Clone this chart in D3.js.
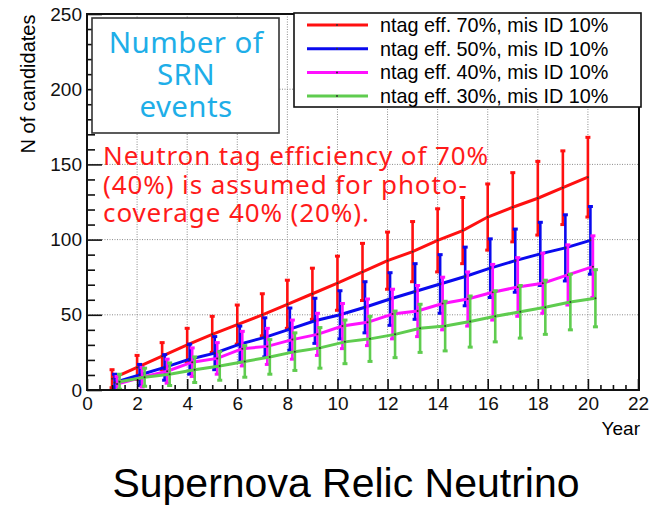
<!DOCTYPE html>
<html>
<head>
<meta charset="utf-8">
<script src="https://cdn.jsdelivr.net/npm/d3@7"></script>
<style>
body { margin: 0; background: #fff; }
text { font-family: "Liberation Sans", Arial, sans-serif; }
</style>
</head>
<body>
<div id="chart"></div>
<script>
// data
var years = [1, 2, 3, 4, 5, 6, 7, 8, 9, 10, 11, 12, 13, 14, 15, 16, 17, 18, 19, 20]

var eff70 = [7.5, 15, 22.5, 30, 37, 43.5, 50, 57, 64, 71, 78.5, 86, 92, 99.5, 106, 115, 121.5, 127.5, 134.5, 141.5]
var err70 = [6, 8, 9, 11, 12, 13, 14, 16, 17, 18, 19, 19, 20, 21, 22, 22, 23, 24.5, 24.5, 26.5]

var eff50 = [5, 10, 15, 20.5, 24.5, 30.5, 35, 40.5, 46, 50, 55, 60.5, 65.5, 70.5, 75.5, 81, 86, 90.5, 94.5, 99.5]
var err50 = [5.5, 7, 8.5, 10, 11, 12, 13, 14, 15, 16, 17, 17.5, 18.5, 19.5, 19.5, 19.5, 21, 21, 22, 22.5]

var eff40 = [4, 8.5, 12.5, 18.5, 21, 27.5, 29, 33.5, 37, 42.5, 45, 50.5, 52.5, 57.5, 60.5, 65, 68.5, 71, 76.5, 82]
var err40 = [5, 6.5, 8, 9.5, 10.5, 11.5, 12, 13, 14, 15, 15.5, 16.5, 17, 17.5, 18, 18.5, 19.5, 20, 20, 20.5]

var eff30 = [5.5, 8.5, 10.5, 13.5, 16, 19, 22, 25.5, 28, 32, 34, 37, 41, 42.5, 45.5, 49, 52, 55, 58.5, 61]
var err30 = [5, 6, 7.5, 8.5, 9.5, 10.5, 11.5, 12.5, 13.5, 14.5, 15, 15.5, 16, 16.5, 17, 17, 17.5, 18, 18.5, 19]

var seriesNames = ["ntag eff. 70%, mis ID 10%", "ntag eff. 50%, mis ID 10%", "ntag eff. 40%, mis ID 10%", "ntag eff. 30%, mis ID 10%"]
var xTicks = [0, 2, 4, 6, 8, 10, 12, 14, 16, 18, 20, 22]
var yTicks = [0, 50, 100, 150, 200, 250]

var colors = ["#ff1010", "#0a0aee", "#ff10ff", "#5fcc4f"]

var series = [
  {name: seriesNames[0], values: eff70, errors: err70},
  {name: seriesNames[1], values: eff50, errors: err50},
  {name: seriesNames[2], values: eff40, errors: err40},
  {name: seriesNames[3], values: eff30, errors: err30}
]

var svgWidth = 650
var svgHeight = 505
var margin = {top: 14, right: 11, bottom: 115, left: 87}
var width = svgWidth - margin.left - margin.right
var height = svgHeight - margin.top - margin.bottom

var svg = d3.select("#chart")
  .append("svg")
  .attr("width", svgWidth)
  .attr("height", svgHeight)

svg.append("rect").attr("width", svgWidth).attr("height", svgHeight).attr("fill", "#fff")

var chartGroup = svg.append("g")
  .attr("transform", `translate(${margin.left}, ${margin.top})`)

var xScale = d3.scaleLinear().domain([0, 22]).range([0, width - 1])
var yScale = d3.scaleLinear().domain([0, 250]).range([height, 0])

chartGroup.append("clipPath").attr("id", "plotclip")
  .append("rect").attr("width", width).attr("height", height)

// dotted grid
chartGroup.append("g").selectAll("line")
  .data(xTicks.filter(d => d > 0 && d < 22))
  .enter().append("line")
  .attr("x1", d => xScale(d)).attr("x2", d => xScale(d))
  .attr("y1", 0).attr("y2", height)
  .attr("stroke", "#8a8a8a").attr("stroke-width", 1).attr("stroke-dasharray", "1,1.5")

chartGroup.append("g").selectAll("line")
  .data(yTicks.filter(d => d > 0 && d < 250))
  .enter().append("line")
  .attr("x1", 0).attr("x2", width)
  .attr("y1", d => yScale(d)).attr("y2", d => yScale(d))
  .attr("stroke", "#8a8a8a").attr("stroke-width", 1).attr("stroke-dasharray", "1,1.5")

// series: line + error bars, each shifted a little in x
var dataGroup = chartGroup.append("g").attr("clip-path", "url(#plotclip)")

series.forEach(function(s, i) {
  var off = i * 0.1
  var pts = years.map((yr, j) => ({x: yr + off, v: s.values[j], e: s.errors[j]}))
  var g = dataGroup.append("g")

  g.selectAll(".bar").data(pts).enter().append("line")
    .attr("x1", d => xScale(d.x)).attr("x2", d => xScale(d.x))
    .attr("y1", d => yScale(d.v - d.e)).attr("y2", d => yScale(d.v + d.e))
    .attr("stroke", colors[i]).attr("stroke-width", 2.6)

  ;[-1, 1].forEach(function(sign) {
    g.selectAll(".cap" + sign).data(pts).enter().append("line")
      .attr("x1", d => xScale(d.x) - 2.5).attr("x2", d => xScale(d.x) + 2.5)
      .attr("y1", d => yScale(d.v + sign * d.e)).attr("y2", d => yScale(d.v + sign * d.e))
      .attr("stroke", colors[i]).attr("stroke-width", 3)
  })

  var line = d3.line().x(d => xScale(d.x)).y(d => yScale(d.v))
  g.append("path").datum(pts)
    .attr("d", line)
    .attr("fill", "none")
    .attr("stroke", colors[i])
    .attr("stroke-width", 3)

  g.selectAll(".dot").data(pts).enter().append("circle")
    .attr("cx", d => xScale(d.x)).attr("cy", d => yScale(d.v))
    .attr("r", 1).attr("fill", "#333")
})

// axes (ROOT style, ticks pointing inward)
var minorX = xScale.ticks(44).filter(d => d % 2 !== 0)
var minorY = yScale.ticks(25).filter(d => d % 50 !== 0)

var bottomAxis = d3.axisBottom(xScale).tickValues(xTicks).tickSize(-11).tickPadding(7)
var bottomMinor = d3.axisBottom(xScale).tickValues(minorX).tickSize(-5).tickFormat("")
var leftAxis = d3.axisLeft(yScale).tickValues(yTicks).tickSize(-15).tickPadding(5)
var leftMinor = d3.axisLeft(yScale).tickValues(minorY).tickSize(-8).tickFormat("")

function styleAxis(g) {
  g.select(".domain").remove()
  g.selectAll("line").attr("stroke", "#111").attr("stroke-width", 1.6)
  g.selectAll("text").attr("fill", "#111").style("font-size", "19px")
}

chartGroup.append("g").attr("transform", `translate(0, ${height})`).call(bottomAxis).call(styleAxis)
chartGroup.append("g").attr("transform", `translate(0, ${height})`).call(bottomMinor).call(styleAxis)
chartGroup.append("g").call(leftAxis).call(styleAxis)
chartGroup.append("g").call(leftMinor).call(styleAxis)

// frame
chartGroup.append("rect")
  .attr("width", width).attr("height", height)
  .attr("fill", "none").attr("stroke", "#111").attr("stroke-width", 2)

// axis titles
svg.append("text")
  .attr("transform", "translate(35, 84) rotate(-90)")
  .attr("text-anchor", "middle")
  .style("font-size", "20px")
  .text("N of candidates")

svg.append("text")
  .attr("x", 640).attr("y", 435)
  .attr("text-anchor", "end")
  .style("font-size", "19px")
  .text("Year")

// legend
var legend = svg.append("g")
legend.append("rect")
  .attr("x", 294).attr("y", 13).attr("width", 347).attr("height", 94)
  .attr("fill", "#fff").attr("stroke", "#111").attr("stroke-width", 1.6)

var rows = legend.selectAll(".row").data(series).enter().append("g")
  .attr("transform", (d, i) => `translate(0, ${25 + i * 23.7})`)
rows.append("line")
  .attr("x1", 307).attr("x2", 368)
  .attr("stroke", (d, i) => colors[i]).attr("stroke-width", 3)
rows.append("circle").attr("cx", 337).attr("r", 1).attr("fill", "#333")
rows.append("text")
  .attr("x", 380).attr("y", 7)
  .style("font-size", "19.8px")
  .text(d => d.name)

// "Number of SRN events" box
svg.append("rect")
  .attr("x", 92).attr("y", 18).attr("width", 187).attr("height", 115)
  .attr("fill", "#fff").attr("stroke", "#333").attr("stroke-width", 1.6)

svg.append("g").selectAll("text")
  .data(["Number of", "SRN", "events"])
  .enter().append("text")
  .attr("x", 186).attr("y", (d, i) => 53 + i * 32)
  .attr("text-anchor", "middle")
  .attr("fill", "#1eaee8")
  .style("font-family", "'Noto Sans', sans-serif")
  .style("font-size", "29.5px")
  .style("letter-spacing", "0.4px")
  .text(d => d)

// red annotation
svg.append("g").selectAll("text")
  .data(["Neutron tag efficiency of 70%", "(40%) is assumed for photo-", "coverage 40% (20%)."])
  .enter().append("text")
  .attr("x", 103).attr("y", (d, i) => 165 + i * 28.5)
  .attr("fill", "#ff1a1a")
  .style("font-family", "'Noto Sans', sans-serif")
  .style("font-size", "26px")
  .style("letter-spacing", "0.9px")
  .text(d => d)

// title
svg.append("text")
  .attr("x", 346).attr("y", 497)
  .attr("text-anchor", "middle")
  .style("font-size", "41px")
  .text("Supernova Relic Neutrino")
</script>
</body>
</html>
